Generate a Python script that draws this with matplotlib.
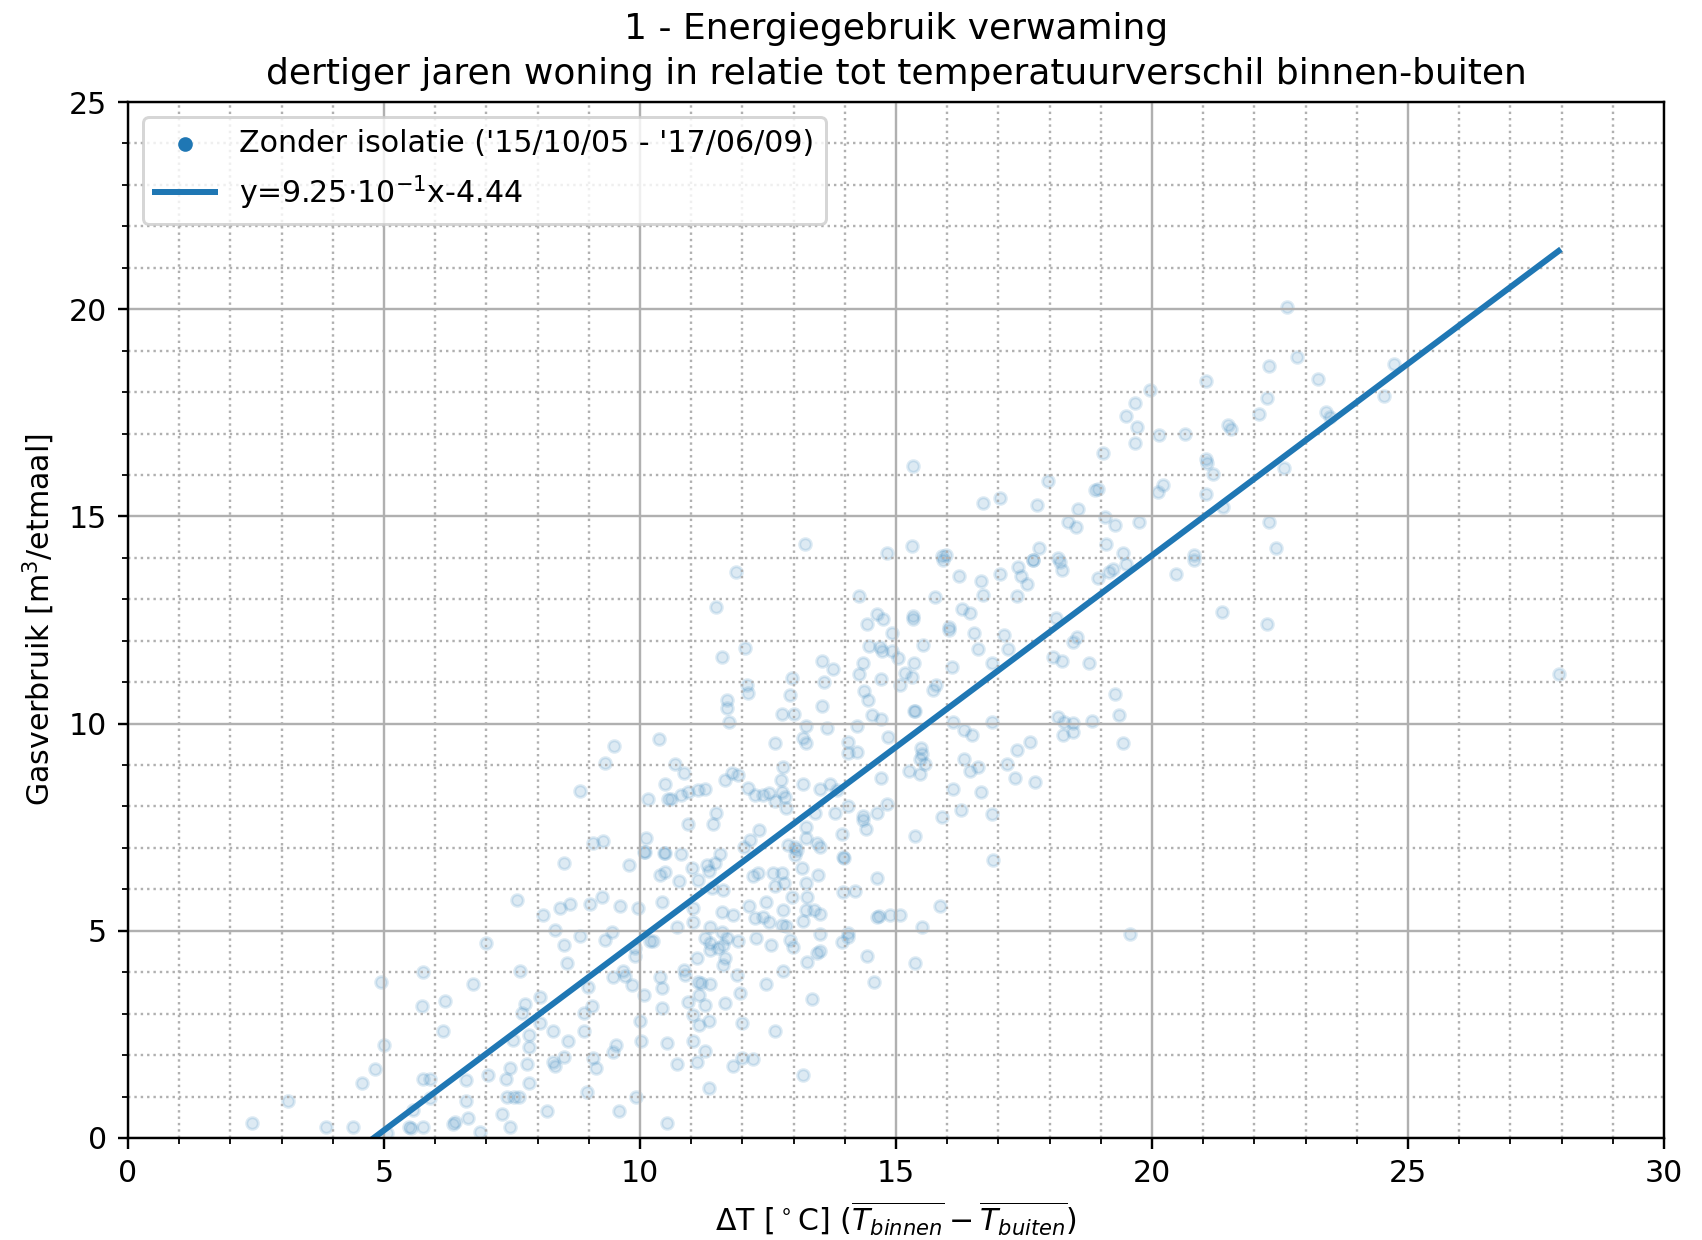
import matplotlib
matplotlib.use("Agg")
import matplotlib.pyplot as plt
from matplotlib.ticker import MultipleLocator

delta_t = [
    2.42, 3.13, 3.87, 4.40, 4.58, 4.82, 4.95, 5.00, 5.05, 5.48, 5.52, 5.77, 5.57, 5.77, 5.89,
    5.90, 5.74, 5.77, 6.15, 6.19, 6.34, 6.39, 6.61, 6.61, 6.65, 6.74, 6.88, 6.99, 7.04, 7.30,
    7.38, 7.41, 7.53, 7.64, 7.46, 7.46, 7.51, 7.59, 7.66, 7.69, 7.75, 7.80, 7.84, 7.84, 7.84,
    8.05, 8.05, 8.10, 8.18, 8.31, 8.34, 8.31, 8.34, 8.44, 8.52, 8.52, 8.57, 8.60, 8.52, 8.63,
    8.82, 8.90, 8.90, 8.96, 8.99, 9.02, 9.07, 9.09, 9.15, 9.25, 9.32, 9.45, 9.48, 9.54, 9.48,
    9.58, 9.61, 9.67, 9.71, 9.79, 9.84, 9.90, 9.90, 9.93, 9.97, 10.00, 10.01, 10.08, 10.10, 10.20,
    10.25, 10.39, 10.40, 10.49, 10.42, 10.42, 10.42, 10.49, 10.52, 10.52,
    # 10.5 - 19 , 0 - 7
    10.81, 11.01, 11.30, 11.46, 11.56, 11.35, 10.76, 10.72, 11.04, 11.04, 11.14, 11.37, 11.40, 11.63, 11.61,
    11.82, 11.60, 11.69, 11.27, 11.37, 11.37, 11.53, 11.63, 11.11, 11.66, 11.63, 11.92, 10.85, 10.88, 11.14,
    11.20, 11.37, 11.89, 10.94, 11.16, 11.27, 11.66, 11.95, 11.04, 11.16, 11.35, 11.99, 11.04, 11.27, 10.72,
    11.11, 11.82, 11.99, 12.21, 11.35, 13.18, 12.21, 12.31, 12.12, 12.25, 12.41, 12.51, 12.46, 12.60, 12.77,
    12.64, 12.81, 12.80, 12.77, 12.85, 12.26, 12.55, 12.92, 12.99, 12.80, 12.46, 12.64, 12.96, 13.03, 13.16,
    13.25, 13.27, 13.25, 13.40, 13.52, 13.18, 13.48, 13.52, 13.27, 13.45, 13.52, 13.35, 13.98, 13.97, 14.20,
    14.62, 14.62, 14.66, 14.88, 15.08, 14.07, 14.07, 13.94, 14.44, 14.57, 15.50, 15.37, 15.85, 16.90, 19.57,
    # 2 - 10.6 , 7 - 14
    9.49, 9.32, 10.38, 8.82, 10.49, 10.16, 10.55, 9.09, 9.28, 10.12, 10.08, 10.47,
    # 10.5 - 19 , 7 - 14
    11.88, 11.48, 11.61, 12.05, 12.08, 12.11, 11.69, 11.69, 11.74, 10.68, 10.85, 10.60, 10.81, 10.94, 11.14,
    11.27, 10.94, 11.43, 11.48, 11.66, 11.79, 11.92, 12.11, 12.25, 12.41, 12.51, 12.64, 12.80, 12.75, 12.77,
    12.83, 12.64, 12.85, 12.77, 12.92, 12.96, 13.01, 13.18, 13.25, 13.25, 13.18, 13.55, 13.76, 13.59, 13.55,
    13.65, 13.52, 13.71, 13.84, 13.42, 13.81, 14.07, 13.25, 13.25, 12.90, 13.03, 13.06, 13.45, 13.52, 12.33,
    12.15, 12.03, 13.94, 13.97, 14.28, 14.44, 14.62, 14.75, 14.92, 14.48, 14.69, 14.72, 14.92, 15.04, 14.36,
    14.28, 14.70, 14.38, 14.46, 14.54, 14.70, 14.24, 14.07, 14.07, 14.23, 14.85, 14.70, 14.83, 14.62, 14.35,
    14.36, 14.41, 15.34, 15.34, 15.52, 15.35, 15.18, 15.31, 15.08, 15.79, 15.73, 15.35, 15.37, 16.09, 15.76,
    15.91, 16.04, 16.04, 16.23, 16.28, 16.45, 16.65, 16.69, 16.52, 16.61, 16.11, 16.32, 16.48, 15.48, 15.50,
    15.46, 15.57, 15.26, 15.46, 16.32, 16.45, 16.61, 16.12, 16.26, 16.65, 15.89, 15.37, 16.87, 16.87, 16.87,
    17.03, 17.39, 17.45, 17.55, 17.37, 17.67, 17.10, 17.19, 17.16, 17.37, 17.62, 17.32, 17.71, 18.06, 18.25,
    18.13, 18.20, 18.24, 18.45, 18.53, 18.77, 18.95, 19.15, 18.17, 18.28, 18.46, 18.82, 18.27, 18.46,
    # 19 - 28 , 7 - 14
    19.24, 19.49, 20.47, 20.81, 21.36, 22.25, 27.94, 19.28, 19.36, 19.44,
    # 10.5 - 19 , 14 - 21
    15.34, 16.69, 17.03, 17.75, 17.97, 18.56, 18.35, 18.52, 18.89, 18.95, 19.05, 19.08, 19.10, 13.22, 14.83,
    15.31, 15.89, 15.98, 17.67, 17.80, 18.17,
    # 19 - 28 , 14 - 21
    22.63, 22.84, 22.29, 23.25, 24.73, 24.53, 23.40, 23.48, 22.25, 22.08, 21.49, 21.54, 21.05, 19.97, 19.67,
    19.49, 19.70, 19.67, 20.14, 20.64, 21.05, 21.07, 21.20, 22.58, 20.12, 20.22, 21.05, 21.38, 19.28, 19.75,
    22.29, 22.42, 19.44, 20.81,
]
gas_use = [
    0.37, 0.90, 0.27, 0.27, 1.32, 1.67, 3.77, 2.24, 0.12, 0.27, 0.25, 0.27, 0.68, 1.42, 1.42,
    0.96, 3.19, 4.01, 2.57, 3.31, 0.34, 0.39, 1.40, 0.90, 0.47, 3.72, 0.15, 4.70, 1.52, 0.58,
    1.42, 1.00, 1.00, 1.00, 1.68, 0.27, 2.36, 5.74, 4.04, 3.01, 3.23, 1.79, 2.20, 1.32, 2.49,
    3.41, 2.78, 5.38, 0.64, 2.57, 5.02, 1.84, 1.74, 5.54, 6.64, 4.66, 4.23, 2.35, 1.95, 5.65,
    4.87, 3.02, 2.57, 1.12, 3.65, 5.65, 3.19, 1.92, 1.68, 5.81, 4.78, 4.98, 3.89, 2.24, 2.08,
    0.64, 5.60, 4.04, 3.91, 6.59, 3.69, 4.58, 4.38, 1.00, 5.54, 2.83, 2.35, 3.45, 6.91, 4.76,
    4.76, 3.89, 6.35, 6.43, 5.70, 3.61, 3.13, 6.88, 2.30, 0.37,
    # 10.5 - 19 , 0 - 7
    6.85, 6.51, 6.59, 6.63, 6.85, 6.45, 6.19, 5.08, 5.54, 5.22, 6.23, 5.08, 6.03, 5.98, 5.46,
    5.38, 4.98, 4.82, 4.82, 4.70, 4.54, 4.58, 4.66, 4.34, 4.34, 4.17, 4.76, 4.05, 3.93, 3.77,
    3.75, 3.72, 3.93, 3.29, 3.45, 3.21, 3.25, 3.49, 2.97, 2.73, 2.83, 2.78, 2.33, 2.11, 1.79,
    1.84, 1.74, 1.92, 1.90, 1.21, 1.52, 6.31, 6.39, 5.60, 5.30, 5.34, 5.22, 5.70, 6.39, 6.39,
    6.08, 6.15, 5.50, 5.14, 5.12, 4.82, 4.66, 4.78, 4.62, 4.04, 3.72, 2.57, 5.82, 6.83, 6.51,
    6.15, 5.82, 5.50, 5.49, 5.41, 5.24, 6.35, 4.92, 4.25, 4.46, 4.52, 3.35, 6.75, 5.94, 5.97,
    6.27, 5.33, 5.36, 5.38, 5.38, 4.94, 4.85, 4.72, 4.39, 3.77, 5.08, 4.23, 5.60, 6.71, 4.92,
    # 2 - 10.6 , 7 - 14
    9.47, 9.06, 9.63, 8.38, 8.54, 8.17, 8.17, 7.11, 7.17, 7.23, 6.91, 6.87,
    # 10.5 - 19 , 7 - 14
    13.67, 12.82, 11.61, 11.82, 10.93, 10.73, 10.57, 10.37, 10.05, 9.03, 8.80, 8.17, 8.28, 8.36, 8.40,
    8.41, 7.58, 7.58, 7.85, 8.64, 8.80, 8.76, 8.44, 8.28, 8.28, 8.32, 9.54, 8.96, 8.64, 8.34,
    8.24, 8.12, 7.96, 10.24, 10.69, 11.09, 10.23, 9.65, 9.54, 9.94, 8.54, 11.52, 11.31, 11.01, 10.42,
    9.89, 8.41, 8.54, 8.40, 7.85, 7.85, 8.01, 7.51, 7.23, 7.07, 7.03, 6.95, 7.11, 7.01, 7.42,
    7.19, 7.03, 7.34, 6.79, 13.08, 12.40, 12.64, 12.52, 12.19, 11.87, 11.84, 11.76, 11.76, 11.58, 11.46,
    11.20, 11.07, 10.79, 10.57, 10.21, 10.10, 9.94, 9.56, 9.28, 9.32, 9.68, 8.68, 8.06, 7.85, 7.77,
    7.67, 7.45, 12.60, 12.52, 11.90, 11.47, 11.21, 11.12, 10.93, 10.93, 10.81, 10.31, 7.29, 11.37, 13.05,
    13.95, 12.34, 12.26, 13.56, 12.76, 12.66, 13.45, 13.10, 12.19, 11.79, 10.05, 9.85, 9.72, 9.40, 9.27,
    9.14, 9.03, 8.86, 8.78, 9.14, 8.86, 8.96, 8.41, 7.92, 8.34, 7.75, 10.30, 7.82, 10.05, 11.47,
    13.61, 13.77, 13.56, 13.38, 13.08, 13.95, 12.14, 11.79, 9.03, 9.36, 9.56, 8.68, 8.60, 11.61, 11.52,
    12.56, 13.91, 13.71, 11.98, 12.08, 11.47, 13.51, 13.67, 10.17, 10.05, 10.01, 10.07, 9.72, 9.80,
    # 19 - 28 , 7 - 14
    13.72, 13.85, 13.61, 13.95, 12.70, 12.40, 11.20, 10.71, 10.21, 9.52,
    # 10.5 - 19 , 14 - 21
    16.22, 15.33, 15.44, 15.28, 15.86, 15.17, 14.87, 14.75, 15.64, 15.65, 16.54, 14.98, 14.33, 14.33, 14.12,
    14.29, 14.04, 14.07, 13.96, 14.23, 13.99,
    # 19 - 28 , 14 - 21
    20.06, 18.84, 18.63, 18.31, 18.68, 17.91, 17.53, 17.39, 17.85, 17.47, 17.21, 17.10, 18.28, 18.05, 17.74,
    17.42, 17.16, 16.78, 16.96, 17.00, 16.38, 16.30, 16.02, 16.16, 15.60, 15.76, 15.54, 15.22, 14.79, 14.87,
    14.87, 14.23, 14.12, 14.07,
]

# Linear fit shown in the legend
slope = 0.925
intercept = -4.44
fit_label = "y=9.25$\\cdot$10$^{-1}$x-4.44"
data_label = "Zonder isolatie ('15/10/05 - '17/06/09)"

DPI = 216
fig, ax = plt.subplots(figsize=(1702 / DPI, 1240 / DPI), dpi=DPI)
fig.subplots_adjust(left=0.0752, right=0.9777, top=0.9177, bottom=0.0823)

ax.scatter(delta_t, gas_use, s=15, color="tab:blue", alpha=0.15, label=data_label)
x_fit = [min(delta_t), max(delta_t)]
y_fit = [slope * x + intercept for x in x_fit]
ax.plot(x_fit, y_fit, color="tab:blue", lw=2, label=fit_label)

ax.set_xlim(0, 30)
ax.set_ylim(0, 25)
ax.xaxis.set_minor_locator(MultipleLocator(1))
ax.yaxis.set_minor_locator(MultipleLocator(1))
ax.grid(which="major", color="#b0b0b0", lw=0.8)
ax.grid(which="minor", color="#b0b0b0", ls=":", lw=0.8)

ax.set_title("1 - Energiegebruik verwaming\n"
             "dertiger jaren woning in relatie tot temperatuurverschil binnen-buiten",
             linespacing=1.4)
ax.set_xlabel("ΔT [$^\\circ$C] ($\\overline{T_{binnen}} - \\overline{T_{buiten}}$)")
ax.set_ylabel("Gasverbruik [m$^3$/etmaal]")

leg = ax.legend(loc="upper left")
leg.legend_handles[0].set_alpha(1)

plt.savefig("out.png", dpi=DPI)
